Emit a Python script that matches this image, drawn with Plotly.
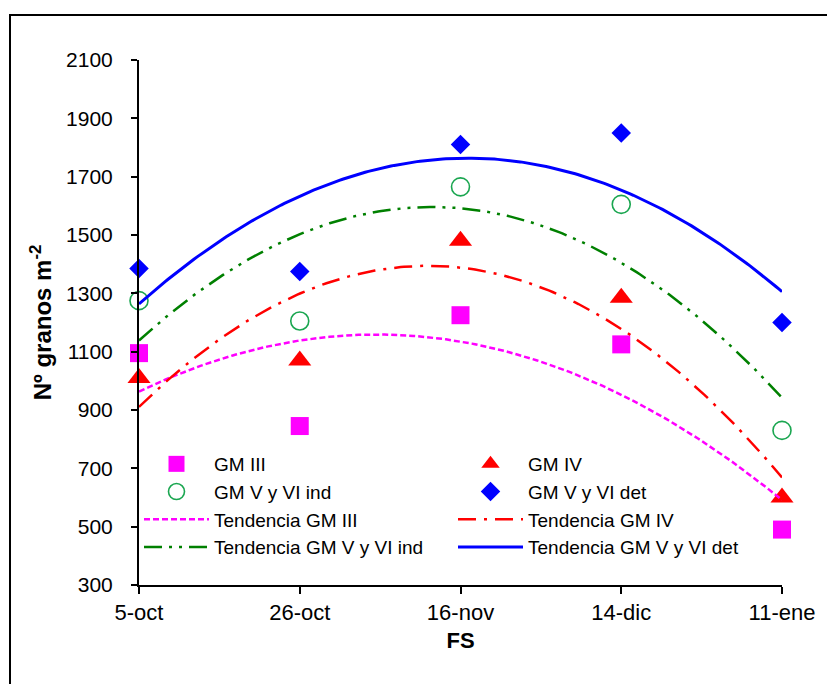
import numpy as np
import plotly.graph_objects as go

# Sowing dates (FS) and grain number per m2 for each maturity group
fechas = ["5-oct", "26-oct", "16-nov", "14-dic", "11-ene"]
gm_iii = [1095, 845, 1225, 1125, 490]
gm_iv = [1010, 1070, 1480, 1285, 600]
gm_v_vi_ind = [1275, 1205, 1665, 1605, 830]
gm_v_vi_det = [1385, 1375, 1810, 1850, 1200]

y_ticks = list(range(300, 2101, 200))

FONT = "Liberation Sans, Arial, sans-serif"
pos = np.arange(len(fechas))
fine = np.linspace(0, len(fechas) - 1, 200)

series = [
    ("GM III", gm_iii, dict(symbol="square", size=18, color="#FF00FF"),
     dict(color="#FF00FF", width=2.5, dash="6px,3px")),
    ("GM IV", gm_iv, dict(symbol="triangle-up", size=20, color="#FF0000"),
     dict(color="#FF0000", width=2.5, dash="18px,8px,3px,8px")),
    ("GM V y VI ind", gm_v_vi_ind,
     dict(symbol="circle-open", size=18, color="#1AA650", line=dict(width=1.6, color="#1AA650")),
     dict(color="#008000", width=2.5, dash="18px,7px,3px,7px,3px,7px")),
    ("GM V y VI det", gm_v_vi_det, dict(symbol="diamond", size=15, color="#0000FF"),
     dict(color="#0000FF", width=3)),
]

fig = go.Figure()

for name, vals, mk, _ in series:
    fig.add_trace(go.Scatter(x=pos, y=vals, mode="markers", name=name,
                             marker=mk, cliponaxis=False))

# Second-order polynomial trend lines fitted to each series
for name, vals, _, ln in series:
    coef = np.polyfit(pos, vals, 2)
    fig.add_trace(go.Scatter(x=fine, y=np.polyval(coef, fine), mode="lines",
                             name="Tendencia " + name, line=ln, cliponaxis=False))

L, R, T, B = 139, 45, 60, 99
W, H = 827, 684
pw, ph = W - L - R, H - T - B

fig.update_layout(
    width=W, height=H,
    margin=dict(l=L, r=R, t=T, b=B),
    paper_bgcolor="white", plot_bgcolor="white",
    font=dict(family=FONT, size=21, color="black"),
    showlegend=True,
    legend=dict(
        orientation="h", x=(139 - L) / pw, xanchor="left",
        y=(H - B - 445) / ph, yanchor="top",
        entrywidth=234, entrywidthmode="pixels",
        itemwidth=65, bgcolor="rgba(0,0,0,0)",
        font=dict(family=FONT, size=19, color="black"),
        traceorder="normal",
    ),
    xaxis=dict(
        range=[0, len(fechas) - 1], tickvals=list(pos), ticktext=fechas,
        showline=True, linecolor="black", linewidth=2,
        ticks="outside", ticklen=7, tickwidth=2, tickcolor="black",
        showgrid=False, zeroline=False,
        tickfont=dict(size=22),
        title=dict(text="<b>FS</b>", font=dict(size=22), standoff=8),
    ),
    yaxis=dict(
        range=[300, 2100], tickvals=y_ticks,
        showline=True, linecolor="black", linewidth=2,
        ticks="outside", ticklen=6, tickwidth=2, tickcolor="black",
        showgrid=False, zeroline=False,
        tickfont=dict(size=21), ticklabelstandoff=14,
        title=dict(text="<b>Nº granos m<sup>-2</sup></b>", font=dict(size=24), standoff=8),
    ),
    shapes=[dict(
        type="rect", xref="paper", yref="paper",
        x0=(10 - L) / pw, x1=(W + 20 - L) / pw,
        y0=(H - B - (H + 20)) / ph, y1=(H - B - 15) / ph,
        line=dict(color="black", width=2), fillcolor="rgba(0,0,0,0)", layer="below",
    )],
)

fig.write_html("out.html")
